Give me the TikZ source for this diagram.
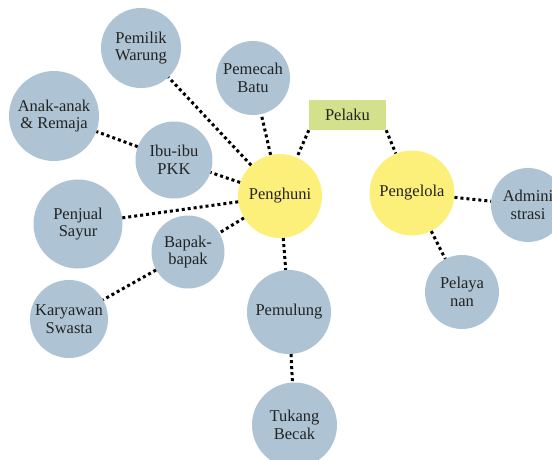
\documentclass[tikz,border=0pt]{standalone}
\usepackage{fontspec}
\setmainfont{Liberation Serif}
\usetikzlibrary{positioning}
\definecolor{CircBlue}{RGB}{174,196,212}
\definecolor{CoreYellow}{RGB}{253,240,122}
\definecolor{BoxGreen}{RGB}{211,224,140}
\definecolor{TextGray}{RGB}{35,35,35}

\begin{document}
\begin{tikzpicture}[x=1pt,y=-1pt,
    every node/.style={font=\fontsize{16.5}{17.5}\selectfont,text=TextGray},
    actor/.style={circle,fill=CircBlue,align=center,inner sep=0pt},
    core/.style={circle,fill=CoreYellow,align=center,inner sep=0pt},
    link/.style={line width=3pt,dash pattern=on 3pt off 3pt}]
      \useasboundingbox (0,0) rectangle (552,459);
      \clip (0,0) rectangle (552,459);
      % pusat dan kotak judul
      \node[fill=BoxGreen,minimum width=77,minimum height=30] (pelaku) at (347.5,115) {Pelaku};
      \node[core,minimum size=84] (penghuni) at (280,196) {Penghuni};
      \node[core,minimum size=85] (pengelola) at (412,193) {Pengelola};
      % kelompok penghuni
      \node[actor,minimum size=80] (warung) at (141,48) {Pemilik\\Warung};
      \node[actor,minimum size=74] (batu) at (253,78) {Pemecah\\Batu};
      \node[actor,minimum size=90] (anak) at (54,116) {Anak-anak\\\& Remaja};
      \node[actor,minimum size=77] (pkk) at (174,160) {Ibu-ibu\\PKK};
      \node[actor,minimum size=89] (sayur) at (78,224) {Penjual\\Sayur};
      \node[actor,minimum size=73] (bapak) at (188,252) {Bapak-\\bapak};
      \node[actor,minimum size=78] (karyawan) at (69,319) {Karyawan\\Swasta};
      \node[actor,minimum size=84] (pemulung) at (289,312) {Pemulung};
      \node[actor,minimum size=85] (becak) at (294.5,425) {Tukang\\Becak};
      % kelompok pengelola
      \node[actor,minimum size=74] (admin) at (528,205) {Admini\\strasi};
      \node[actor,minimum size=74] (layan) at (462,292) {Pelaya\\nan};
      % hubungan
      \draw[link] (pelaku.south west) -- (penghuni);
      \draw[link] (pelaku.south east) -- (pengelola);
      \draw[link] (penghuni) -- (warung);
      \draw[link] (penghuni) -- (batu);
      \draw[link] (penghuni) -- (pkk);
      \draw[link] (pkk) -- (anak);
      \draw[link] (penghuni) -- (sayur);
      \draw[link] (penghuni) -- (bapak);
      \draw[link] (bapak) -- (karyawan);
      \draw[link] (penghuni) -- (pemulung);
      \draw[link] (pemulung) -- (becak);
      \draw[link] (pengelola) -- (admin);
      \draw[link] (pengelola) -- (layan);
    \end{tikzpicture}
\end{document}
